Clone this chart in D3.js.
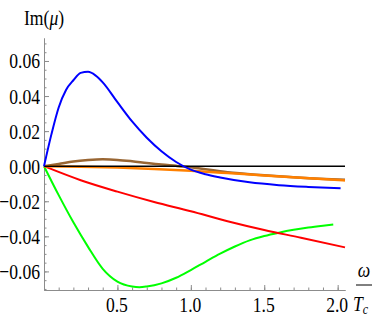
<!DOCTYPE html>
<html>
<head>
<meta charset="utf-8">
<script src="https://cdn.jsdelivr.net/npm/d3@7"></script>
<style>
  body { margin: 0; background: #fff; }
  svg { display: block; }
  text { font-family: "Liberation Serif", "Times New Roman", serif; }
</style>
</head>
<body>
<svg id="chart" width="374" height="319"></svg>
<script>
// values
var blueX  = [0, 0.05, 0.1, 0.15, 0.2, 0.25, 0.3, 0.35, 0.4, 0.5, 0.6, 0.7, 0.8, 0.9, 1.0, 1.1, 1.2, 1.4, 1.6, 1.8, 2.02]
var blueY  = [0, 0.018, 0.0335, 0.0435, 0.049, 0.0532, 0.0538, 0.0518, 0.0478, 0.0365, 0.0255, 0.0162, 0.0085, 0.0024, -0.002, -0.0046, -0.0064, -0.0092, -0.0108, -0.0118, -0.0126]

var greenX = [0, 0.1, 0.2, 0.3, 0.4, 0.5, 0.6, 0.65, 0.7, 0.8, 0.9, 1.0, 1.1, 1.2, 1.3, 1.4, 1.5, 1.6, 1.7, 1.8, 1.9, 1.97]
var greenY = [0, -0.0165, -0.032, -0.046, -0.0585, -0.0658, -0.0686, -0.069, -0.0686, -0.0668, -0.0636, -0.0592, -0.0545, -0.0499, -0.0458, -0.0423, -0.0398, -0.0379, -0.0363, -0.035, -0.0339, -0.0332]

var redX   = [0, 0.25, 0.5, 0.75, 1.0, 1.25, 1.5, 1.75, 2.05]
var redY   = [0, -0.008, -0.0145, -0.0204, -0.0257, -0.0314, -0.0364, -0.0408, -0.0463]

var orangeX = [0, 0.25, 0.5, 0.75, 1.0, 1.25, 1.5, 1.75, 2.05]
var orangeY = [0, -0.0003, -0.0008, -0.0016, -0.0026, -0.0039, -0.0053, -0.0066, -0.0081]

var brownX = [0, 0.1, 0.2, 0.3, 0.4, 0.5, 0.6, 0.7, 0.8, 0.9, 1.0, 1.25, 1.5, 1.75, 2.05]
var brownY = [0, 0.0013, 0.0027, 0.0035, 0.0039, 0.0036, 0.0028, 0.0018, 0.0009, 0.0002, -0.0006, -0.0035, -0.0052, -0.0066, -0.0078]

var xTicks = [0.5, 1.0, 1.5, 2.0]
var yTicks = [-0.06, -0.04, -0.02, 0.00, 0.02, 0.04, 0.06]

var svg = d3.select("#chart")

var x = d3.scaleLinear().domain([0, 2.05]).range([44, 345])
var y = d3.scaleLinear().domain([-0.0706, 0.0731]).range([290, 38])

var FS = 22
var SX = 0.8

// x axis
var xMinor = d3.range(1, 21).map(function(i){ return i / 10 })
svg.append("g")
    .attr("transform", "translate(0," + y.range()[0] + ")")
    .call(d3.axisBottom(x).tickValues(xMinor).tickSizeInner(-2.5).tickSizeOuter(0).tickFormat(""))
svg.append("g")
    .attr("class", "xmaj")
    .attr("transform", "translate(0," + y.range()[0] + ")")
    .call(d3.axisBottom(x).tickValues(xTicks).tickSizeInner(-5).tickSizeOuter(0).tickFormat(d3.format(".1f")))

// y axis
var yMinor = d3.range(-14, 15).map(function(i){ return i * 0.005 })
svg.append("g")
    .attr("transform", "translate(" + x.range()[0] + ",0)")
    .call(d3.axisLeft(y).tickValues(yMinor).tickSizeInner(-2.5).tickSizeOuter(0).tickFormat(""))
svg.append("g")
    .attr("class", "ymaj")
    .attr("transform", "translate(" + x.range()[0] + ",0)")
    .call(d3.axisLeft(y).tickValues(yTicks).tickSizeInner(-5).tickSizeOuter(0).tickFormat(d3.format(".2f")))

svg.selectAll(".domain, .tick line").attr("stroke", "#8c8c8c").attr("stroke-width", 1)

// restyle tick labels: serif, squeezed
svg.selectAll(".xmaj .tick text")
    .attr("font-size", FS).attr("fill", "#000")
    .attr("y", 0).attr("dy", 0)
    .attr("transform", "translate(-1,22) scale(" + SX + ",1)")
svg.selectAll(".ymaj .tick text")
    .attr("font-size", FS).attr("fill", "#000")
    .attr("x", 0).attr("dy", 0)
    .attr("text-anchor", "end")
    .attr("transform", "translate(-4,7) scale(" + SX + ",1)")

// series
var line = d3.line()
    .x(function(d){ return x(d[0]) })
    .y(function(d){ return y(d[1]) })
    .curve(d3.curveMonotoneX)

function draw(xs, ys, color, w)
{
    svg.append("path")
        .datum(d3.zip(xs, ys))
        .attr("d", line)
        .attr("fill", "none")
        .attr("stroke", color)
        .attr("stroke-width", w)
        .attr("stroke-linejoin", "round")
}

draw(greenX, greenY, "#00ff00", 2)
draw(redX, redY, "#ff0000", 2)
draw(brownX, brownY, "#996633", 2.5)
draw(orangeX, orangeY, "#ff8000", 2.5)

svg.append("line")
    .attr("x1", x(0)).attr("x2", x(2.05))
    .attr("y1", y(0)).attr("y2", y(0))
    .attr("stroke", "#000").attr("stroke-width", 1.5)

draw(blueX, blueY, "#0000ff", 2)

// axis labels
var yl = svg.append("text")
    .attr("transform", "translate(24,25) scale(" + SX + ",1)")
    .attr("font-size", FS)
yl.append("tspan").text("Im(")
yl.append("tspan").attr("font-style", "italic").text("μ")
yl.append("tspan").text(")")

svg.append("text")
    .attr("transform", "translate(364,277) scale(" + SX + ",1)")
    .attr("font-size", FS).attr("font-style", "italic")
    .attr("text-anchor", "middle")
    .text("ω")
svg.append("line")
    .attr("x1", 356).attr("x2", 372)
    .attr("y1", 285).attr("y2", 285)
    .attr("stroke", "#000").attr("stroke-width", 1)
var tl = svg.append("text")
    .attr("transform", "translate(353,311) scale(" + SX + ",1)")
    .attr("font-size", FS).attr("font-style", "italic")
tl.append("tspan").text("T")
tl.append("tspan").attr("font-size", 15).attr("dy", 3).text("c")
</script>
</body>
</html>
